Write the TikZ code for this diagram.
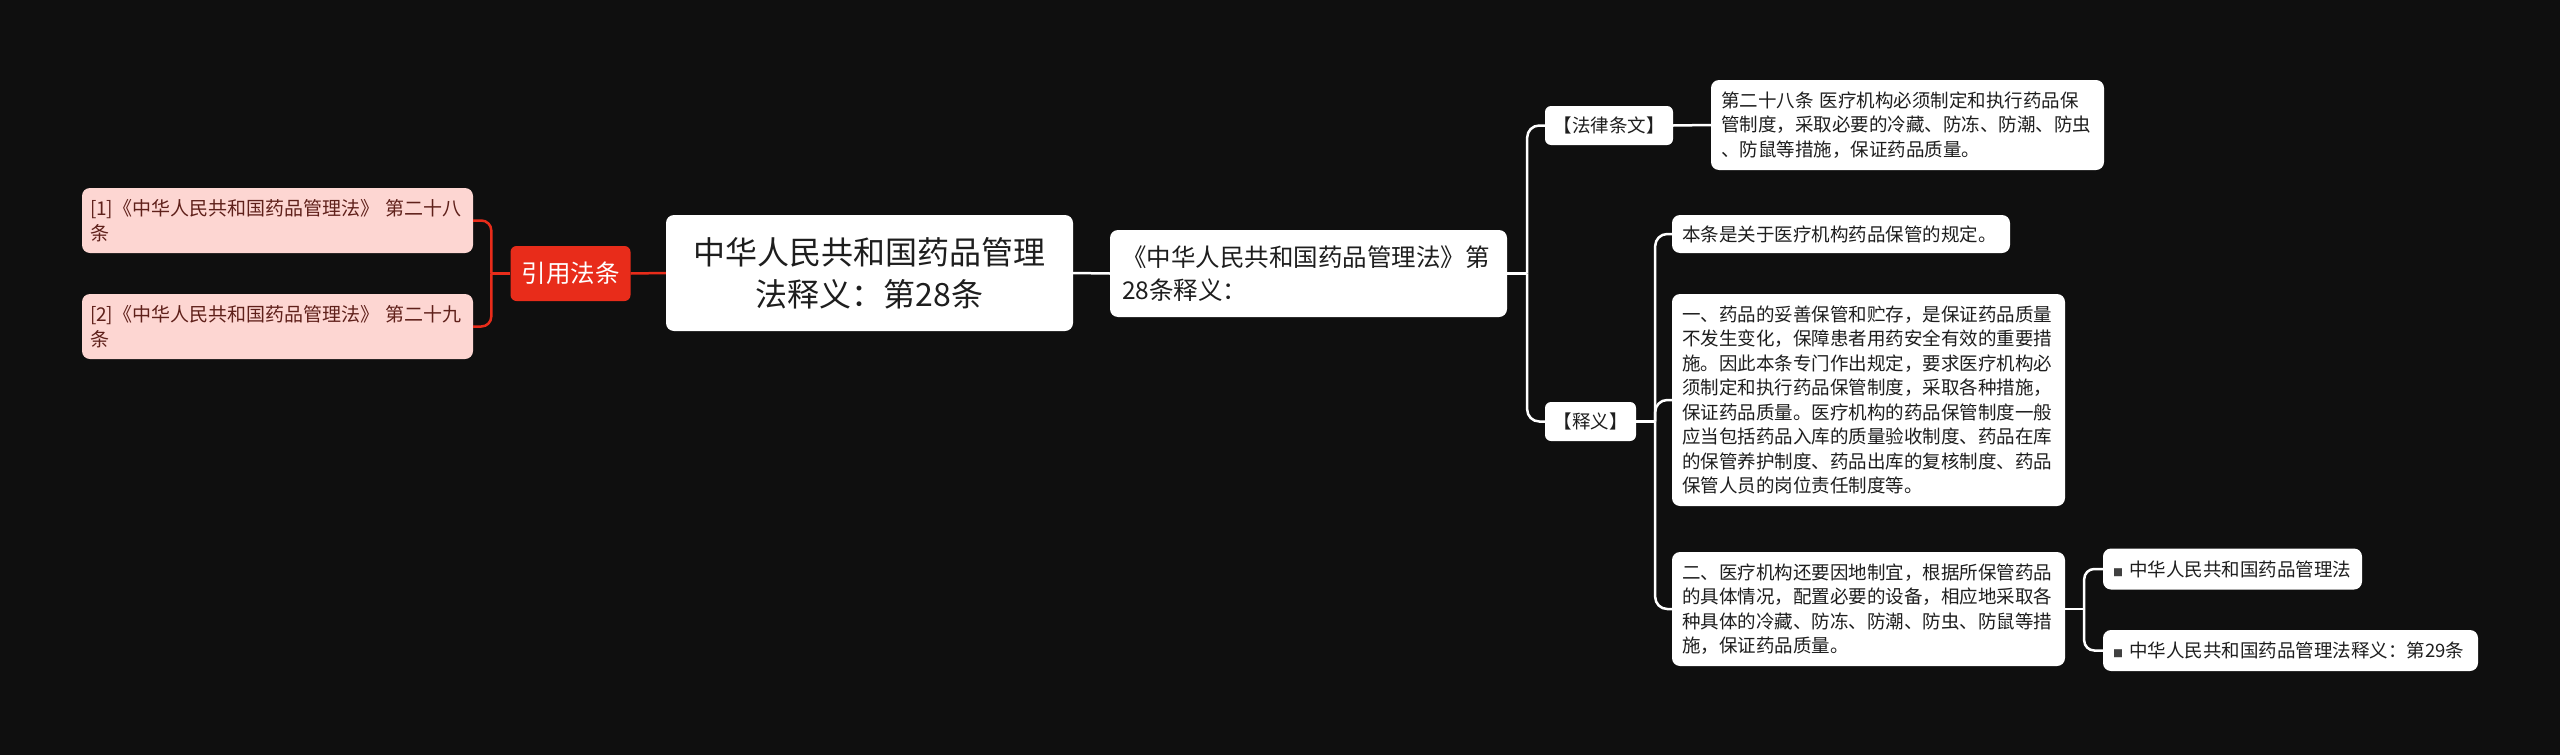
\documentclass[tikz,border=0pt]{standalone}
\usepackage{fontspec}
\setmainfont{Noto Sans CJK SC}
\usetikzlibrary{positioning,calc}
\definecolor{bgDark}{RGB}{15,15,15}
\definecolor{mmRed}{RGB}{232,44,26}
\definecolor{citePink}{RGB}{253,214,210}
\definecolor{citeInk}{RGB}{95,32,26}
\definecolor{boxInk}{RGB}{30,30,30}

\begin{document}
\begin{tikzpicture}[x=1pt, y=-1pt,
  root/.style={fill=white, rounded corners=8pt, text=boxInk, align=center, minimum width=407pt, minimum height=116pt, inner sep=0pt, font=\fontsize{32}{42}\selectfont},
  topic/.style={fill=white, rounded corners=8pt, text=boxInk, align=left, inner xsep=12pt, inner ysep=0pt, font=\fontsize{24.5}{33}\selectfont},
  tag/.style={fill=white, rounded corners=6pt, text=boxInk, align=center, inner sep=0pt, minimum height=39pt, font=\fontsize{18.5}{24.5}\selectfont},
  leaf/.style={fill=white, rounded corners=8pt, text=boxInk, align=left, inner xsep=10pt, inner ysep=0pt, font=\fontsize{18.5}{24.5}\selectfont},
  refnode/.style={fill=mmRed, rounded corners=6pt, text=white, align=center, minimum width=120pt, minimum height=55pt, inner sep=0pt, font=\fontsize{24.5}{30}\selectfont},
  cite/.style={fill=citePink, rounded corners=8pt, text=citeInk, align=left, text width=375pt, minimum height=65pt, inner xsep=8pt, inner ysep=0pt, font=\fontsize{19}{24.5}\selectfont},
  conn/.style={line width=2.5pt, white},
  redconn/.style={line width=2.5pt, mmRed}
]
  \fill[bgDark] (0,0) rectangle (2560,755);
  \useasboundingbox (0,0) rectangle (2560,755);

  \node[root] (root) at (869.5,273) {中华人民共和国药品管理\\法释义：第28条};
  \node[refnode] (ref) at (570.5,273.5) {引用法条};
  \node[cite] (cite1) at (277.5,220.5) {[1]《中华人民共和国药品管理法》 第二十八\\条};
  \node[cite] (cite2) at (277.5,326.5) {[2]《中华人民共和国药品管理法》 第二十九\\条};
  \node[topic, text width=373pt, minimum height=87pt] (sub) at (1308.5,273.5) {《中华人民共和国药品管理法》第\\28条释义：};

  \node[tag, minimum width=128pt] (lawtag) at (1609,125.5) {【法律条文】};
  \node[leaf, text width=373pt, minimum height=90pt] (lawtext) at (1907.5,125)
    {第二十八条 医疗机构必须制定和执行药品保\\管制度，采取必要的冷藏、防冻、防潮、防虫\\、防鼠等措施，保证药品质量。};
  \node[tag, minimum width=91pt] (shiyi) at (1590.5,421.5) {【释义】};

  \node[leaf, text width=318pt, minimum height=38pt] (n1) at (1841,234) {本条是关于医疗机构药品保管的规定。};
  \node[leaf, text width=373pt, minimum height=212pt] (n2) at (1868.5,400)
    {一、药品的妥善保管和贮存，是保证药品质量\\不发生变化，保障患者用药安全有效的重要措\\施。因此本条专门作出规定，要求医疗机构必\\须制定和执行药品保管制度，采取各种措施，\\保证药品质量。医疗机构的药品保管制度一般\\应当包括药品入库的质量验收制度、药品在库\\的保管养护制度、药品出库的复核制度、药品\\保管人员的岗位责任制度等。};
  \node[leaf, text width=373pt, minimum height=114pt] (n3) at (1868.5,609)
    {二、医疗机构还要因地制宜，根据所保管药品\\的具体情况，配置必要的设备，相应地采取各\\种具体的冷藏、防冻、防潮、防虫、防鼠等措\\施，保证药品质量。};
  \node[leaf, text width=239pt, minimum height=41pt] (m1) at (2232.5,569)
    {{\fontsize{10}{10}\selectfont\color{black!75}■}\ 中华人民共和国药品管理法};
  \node[leaf, text width=355pt, minimum height=41pt] (m2) at (2290.5,650.5)
    {{\fontsize{10}{10}\selectfont\color{black!75}■}\ 中华人民共和国药品管理法释义：第29条};

  \coordinate (jr) at ([xshift=-19pt]ref.west);
  \coordinate (ja) at ([xshift=20pt]sub.east);
  \coordinate (jb) at ([xshift=19pt]shiyi.east);
  \coordinate (jc) at ([xshift=19pt]n3.east);

  \draw[redconn] (root.west) -- (ref.east);
  \draw[redconn] (ref.west) -- (jr);
  \draw[redconn, rounded corners=10pt] (jr) |- (cite1.east);
  \draw[redconn, rounded corners=10pt] (jr) |- (cite2.east);

  \draw[conn] (root.east) -- (sub.west);
  \draw[conn] (sub.east) -- (ja);
  \draw[conn, rounded corners=12pt] (ja) |- (lawtag.west);
  \draw[conn, rounded corners=12pt] (ja) |- (shiyi.west);
  \draw[conn] (lawtag.east) -- (lawtext.west);

  \draw[conn] (shiyi.east) -- (jb);
  \draw[conn, rounded corners=12pt] (jb) |- (n1.west);
  \draw[conn, rounded corners=12pt] (jb) |- (n2.west);
  \draw[conn, rounded corners=12pt] (jb) |- (n3.west);

  \draw[conn] (n3.east) -- (jc);
  \draw[conn, rounded corners=10pt] (jc) |- (m1.west);
  \draw[conn, rounded corners=10pt] (jc) |- (m2.west);
\end{tikzpicture}
\end{document}
